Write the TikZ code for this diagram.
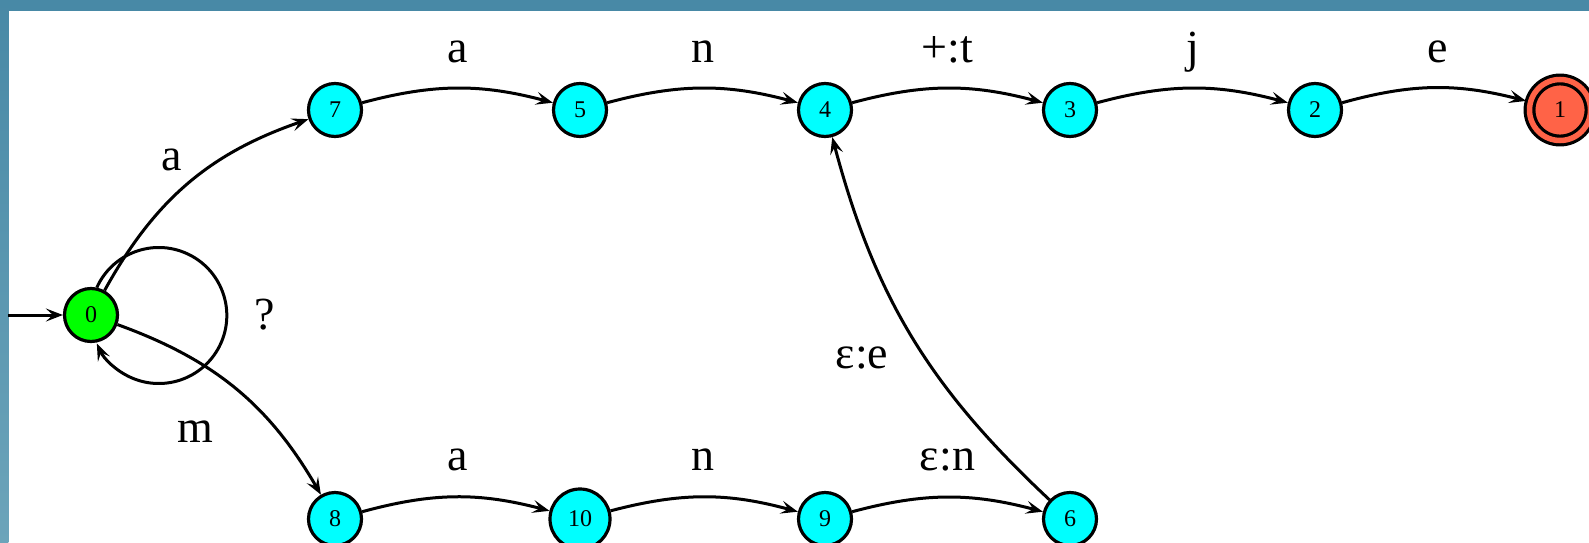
\documentclass[tikz,border=0pt]{standalone}
\usepackage{fontspec}
\setmainfont{Liberation Serif}
\usetikzlibrary{arrows.meta}
\definecolor{banda}{RGB}{72,137,166}
\definecolor{bandaclara}{RGB}{108,164,186}
\definecolor{cian}{RGB}{0,255,255}
\definecolor{verde}{RGB}{0,255,0}
\definecolor{tomate}{RGB}{255,99,71}
\tikzset{
  estado/.style = {circle, draw=black, line width=3.2pt, fill=cian, minimum size=53pt, inner sep=0pt, font=\fontsize{24}{24}\selectfont},
  arista/.style = {-{Stealth[length=17pt, width=13pt, inset=7pt]}, black, line width=3pt},
  etiq/.style   = {anchor=base, inner sep=0pt, font=\fontsize{46}{46}\selectfont}
}

\begin{document}
\begin{tikzpicture}[x=1pt, y=-1pt]
  \useasboundingbox (0,0) rectangle (1589,543);
  \fill[white] (0,0) rectangle (1589,543);
  \fill[banda] (0,0) rectangle (1589,11.5);
  \shade[top color=banda, bottom color=bandaclara] (0,0) rectangle (8.3,543);

  % estados
  \node[estado, fill=verde] (q0) at (91,315) {0};
  \foreach \n/\x in {7/335, 5/580, 4/825, 3/1070, 2/1315}
    \node[estado] (q\n) at (\x,110) {\n};
  \node[estado, fill=tomate, double=tomate, double distance=5.5pt, minimum size=61pt, outer sep=4.6pt] (q1) at (1560,110) {1};
  \foreach \n/\x in {8/335, 9/825, 6/1070}
    \node[estado] (q\n) at (\x,519) {\n};
  \node[estado, minimum size=60pt] (q10) at (580,519) {10};

  % transiciones
  \coordinate (ini) at (8.3,315);
  \draw[arista] (ini) -- (q0);
  \draw[arista] (q0) to[bend left=21] (q7);
  \draw[arista] (q0) to[bend left=20] (q8);
  \draw[arista] (q0.78) arc[start angle=155.7, end angle=-155.7, radius=68pt];
  \foreach \a/\b in {7/5, 5/4, 4/3, 3/2, 2/1, 8/10, 10/9, 9/6}
    \draw[arista] (q\a) to[bend left=15] (q\b);
  \draw[arista] (q6) to[bend left=16] (q4);

  % etiquetas
  \foreach \t [count=\i] in {a, n, +:t, j, e}
    \node[etiq] (ls\i) at (212.5+245*\i,63) {\t};
  \foreach \t [count=\i] in {a, n, ε:n}
    \node[etiq] (li\i) at (212.5+245*\i,470) {\t};
  \node[etiq] (l07) at (172,170) {a};
  \node[etiq] (l08) at (195,442) {m};
  \node[etiq] (l00) at (265,329) {?};
  \node[etiq] (l64) at (862,368) {ε:e};
\end{tikzpicture}
\end{document}
